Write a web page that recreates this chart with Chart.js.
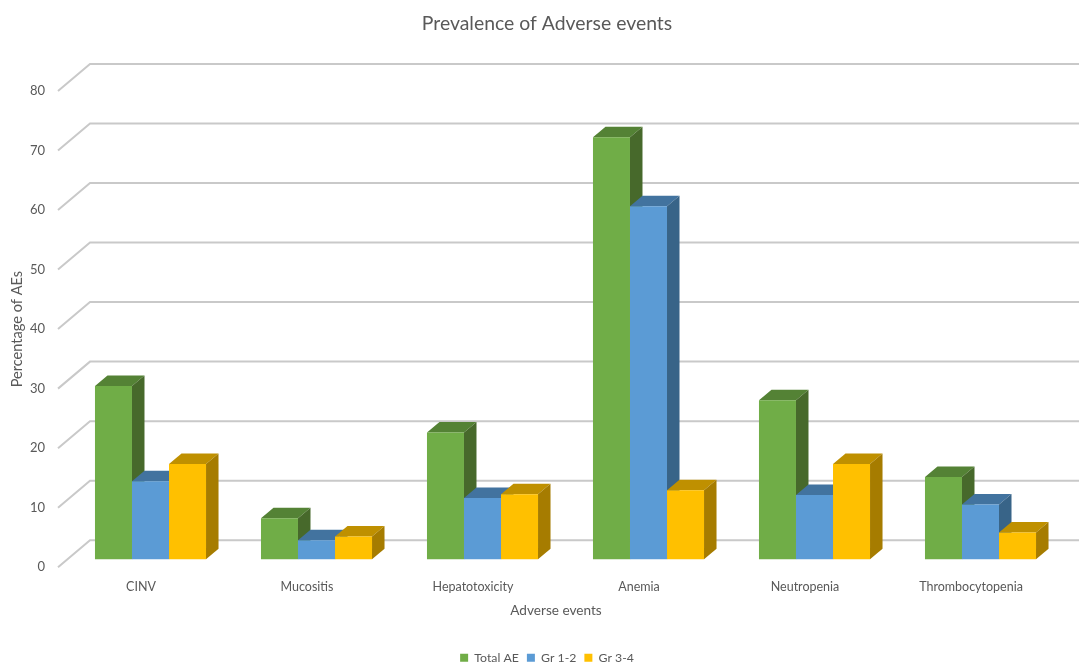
<!DOCTYPE html>
<html>
<head>
<meta charset="utf-8">
<title>Prevalence of Adverse events</title>
<script src="https://cdn.jsdelivr.net/npm/chart.js@4/dist/chart.umd.js"></script>
<style>
    html, body { margin: 0; padding: 0; background: #fff; overflow: hidden; }
    canvas { display: block; }
</style>
</head>
<body>
<canvas id="aeChart" width="1079" height="663"></canvas>
<script>
const categories = ['CINV', 'Mucositis', 'Hepatotoxicity', 'Anemia', 'Neutropenia', 'Thrombocytopenia'];
const seriesNames = ['Total AE', 'Gr 1-2', 'Gr 3-4'];
const totalAE = [29.1, 6.9, 21.3, 70.9, 26.7, 13.8];
const grade12 = [13.1, 3.2, 10.3, 59.3, 10.8, 9.2];
const grade34 = [16.0, 3.8, 10.9, 11.6, 16.0, 4.5];
const yTicks = [0, 10, 20, 30, 40, 50, 60, 70, 80];

const frontColors = ['#70ad47', '#5b9bd5', '#ffc000'];
const topColors = ['#548235', '#42739f', '#bf9000'];
const sideColors = ['#47692b', '#386488', '#a67c00'];
const textColor = '#595959';

// depth of the back wall and of the bars, bars sit halfway in the floor
const wallDepth = { x: 32, y: -27 };
const barDepth = { x: 12.5, y: -10.5 };
const barShift = { x: 9.5, y: -8 };
const headerShift = 20;

const fake3d = {
    id: 'fake3d',
    afterLayout(chart) {
        // title and legend are centred on the whole picture plus a bit
        [chart.titleBlock, chart.legend].forEach(box => {
            box.left += headerShift;
            box.right += headerShift;
        });
    },
    beforeDatasetsDraw(chart) {
        const { ctx, scales } = chart;
        const left = chart.chartArea.left;

        ctx.save();
        ctx.strokeStyle = '#c9c9c9';
        ctx.lineWidth = 2;
        yTicks.forEach(v => {
            const y = scales.y.getPixelForValue(v);
            ctx.beginPath();
            ctx.moveTo(left, y);
            ctx.lineTo(left + wallDepth.x, y + wallDepth.y);
            ctx.lineTo(chart.width, y + wallDepth.y);
            ctx.stroke();
        });
        ctx.restore();

        // side and top faces, left to right so that they overlap properly
        ctx.save();
        ctx.translate(barShift.x, barShift.y);
        categories.forEach((c, i) => {
            seriesNames.forEach((s, d) => {
                const bar = chart.getDatasetMeta(d).data[i];
                const l = bar.x - bar.width / 2;
                const r = bar.x + bar.width / 2;
                ctx.fillStyle = topColors[d];
                ctx.beginPath();
                ctx.moveTo(l, bar.y);
                ctx.lineTo(l + barDepth.x, bar.y + barDepth.y);
                ctx.lineTo(r + barDepth.x, bar.y + barDepth.y);
                ctx.lineTo(r, bar.y);
                ctx.closePath();
                ctx.fill();
                ctx.fillStyle = sideColors[d];
                ctx.beginPath();
                ctx.moveTo(r, bar.y);
                ctx.lineTo(r + barDepth.x, bar.y + barDepth.y);
                ctx.lineTo(r + barDepth.x, bar.base + barDepth.y);
                ctx.lineTo(r, bar.base);
                ctx.closePath();
                ctx.fill();
            });
        });
        ctx.restore();

        // front faces are the real bars, moved to the same place
        ctx.save();
        ctx.translate(barShift.x, barShift.y);
    },
    afterDatasetsDraw(chart) {
        chart.ctx.restore();
    }
};

new Chart(document.getElementById('aeChart').getContext('2d'), {
    type: 'bar',
    data: {
        labels: categories,
        datasets: [
            { label: seriesNames[0], data: totalAE, backgroundColor: frontColors[0] },
            { label: seriesNames[1], data: grade12, backgroundColor: frontColors[1] },
            { label: seriesNames[2], data: grade34, backgroundColor: frontColors[2] }
        ]
    },
    options: {
        responsive: false,
        animation: false,
        devicePixelRatio: 1,
        layout: { padding: { left: 0, right: 25, top: 0, bottom: -11 } },
        datasets: {
            bar: { categoryPercentage: 0.669, barPercentage: 1, clip: false }
        },
        scales: {
            x: {
                grid: { display: false },
                border: { display: false },
                ticks: { color: textColor, font: { family: 'Lato', size: 12.5 }, padding: 4, maxRotation: 0 },
                title: { display: true, text: 'Adverse events', color: textColor, font: { family: 'Lato', size: 13.6 }, padding: { top: 6, bottom: 25 } },
                afterFit: scale => { scale.height = 76.5; }
            },
            y: {
                min: 0,
                max: 80,
                afterBuildTicks: scale => { scale.ticks = yTicks.map(v => ({ value: v })); },
                grid: { display: false },
                border: { display: false },
                ticks: { color: textColor, font: { family: 'Lato', size: 13 }, padding: 5 },
                title: { display: true, text: 'Percentage of AEs', color: textColor, font: { family: 'Lato', size: 14.6 }, padding: { top: 9, bottom: 0 } },
                afterFit: scale => { scale.width = 58; }
            }
        },
        plugins: {
            title: {
                display: true,
                text: 'Prevalence of Adverse events',
                color: textColor,
                font: { family: 'Lato', size: 19.4, weight: 'normal' },
                padding: { top: 12.5, bottom: 55.2 }
            },
            legend: {
                position: 'bottom',
                labels: {
                    color: textColor,
                    font: { family: 'Lato', size: 12.3 },
                    boxWidth: 8,
                    boxHeight: 8,
                    padding: 8
                }
            },
            tooltip: { enabled: false }
        }
    },
    plugins: [fake3d]
});
</script>
</body>
</html>
